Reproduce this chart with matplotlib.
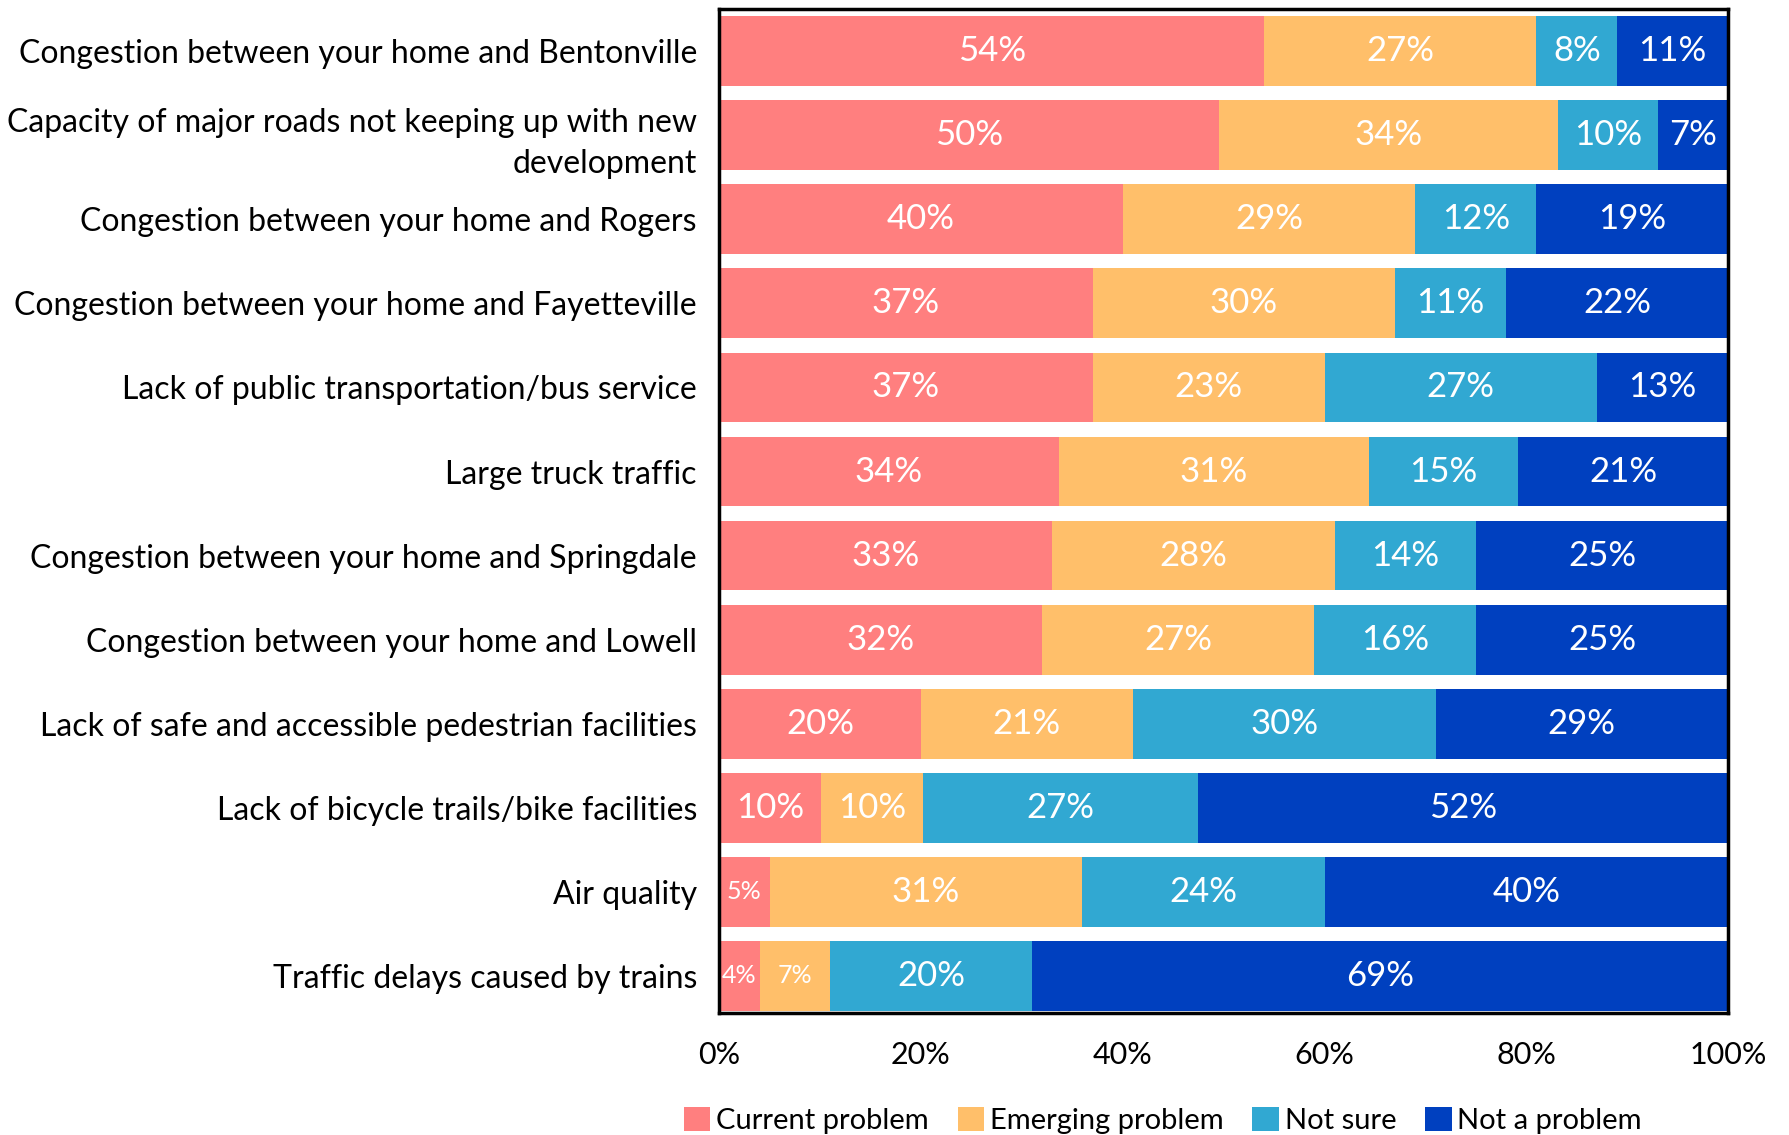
import matplotlib
matplotlib.use("Agg")
import matplotlib.pyplot as plt
import numpy as np

plt.rcParams['font.family'] = ['Lato', 'DejaVu Sans']

categories = [
    "Congestion between your home and Bentonville",
    "Capacity of major roads not keeping up with new\ndevelopment",
    "Congestion between your home and Rogers",
    "Congestion between your home and Fayetteville",
    "Lack of public transportation/bus service",
    "Large truck traffic",
    "Congestion between your home and Springdale",
    "Congestion between your home and Lowell",
    "Lack of safe and accessible pedestrian facilities",
    "Lack of bicycle trails/bike facilities",
    "Air quality",
    "Traffic delays caused by trains",
]
series_names = ["Current problem", "Emerging problem", "Not sure", "Not a problem"]
current = [54, 50, 40, 37, 37, 34, 33, 32, 20, 10, 5, 4]
emerging = [27, 34, 29, 30, 23, 31, 28, 27, 21, 10, 31, 7]
not_sure = [8, 10, 12, 11, 27, 15, 14, 16, 30, 27, 24, 20]
not_problem = [11, 7, 19, 22, 13, 21, 25, 25, 29, 52, 40, 69]
xticks = [0, 20, 40, 60, 80, 100]

colors = ["#FF7F7F", "#FFBF6A", "#31A8D2", "#0040BF"]
small_labels = {(10, 0), (11, 0), (11, 1)}

vals = np.array([current, emerging, not_sure, not_problem], dtype=float)
totals = vals.sum(axis=0)
shares = vals / totals * 100

fig = plt.figure(figsize=(17.89, 11.35), dpi=100)
ax = fig.add_axes([0.402, 0.1075, 0.564, 0.8845])

y = np.arange(len(categories))
left = np.zeros(len(categories))
for s in range(4):
    ax.barh(y, shares[s], left=left, height=0.83, color=colors[s],
            label=series_names[s])
    for i in range(len(categories)):
        fs = 18 if (i, s) in small_labels else 25
        ax.text(left[i] + shares[s][i] / 2, y[i], f"{int(vals[s][i])}%",
                ha="center", va="center", color="white", fontsize=fs)
    left += shares[s]

ax.set_xlim(0, 100)
ax.set_ylim(11.44, -0.5)
ax.set_yticks(y)
ax.set_yticklabels(categories, fontsize=23, linespacing=1.45)
ax.set_xticks(xticks)
ax.set_xticklabels([f"{t}%" for t in xticks], fontsize=22)
ax.tick_params(axis="both", length=0)
ax.tick_params(axis="y", pad=16)
ax.tick_params(axis="x", pad=20)
for sp in ax.spines.values():
    sp.set_linewidth(2.5)
    sp.set_color("black")

fig.legend(loc="lower center", bbox_to_anchor=(0.65, -0.022), ncol=4,
           frameon=False, fontsize=21, handlelength=0.9, handleheight=0.9,
           handletextpad=0.2, columnspacing=1.0)

fig.savefig("out.png", dpi=100)
